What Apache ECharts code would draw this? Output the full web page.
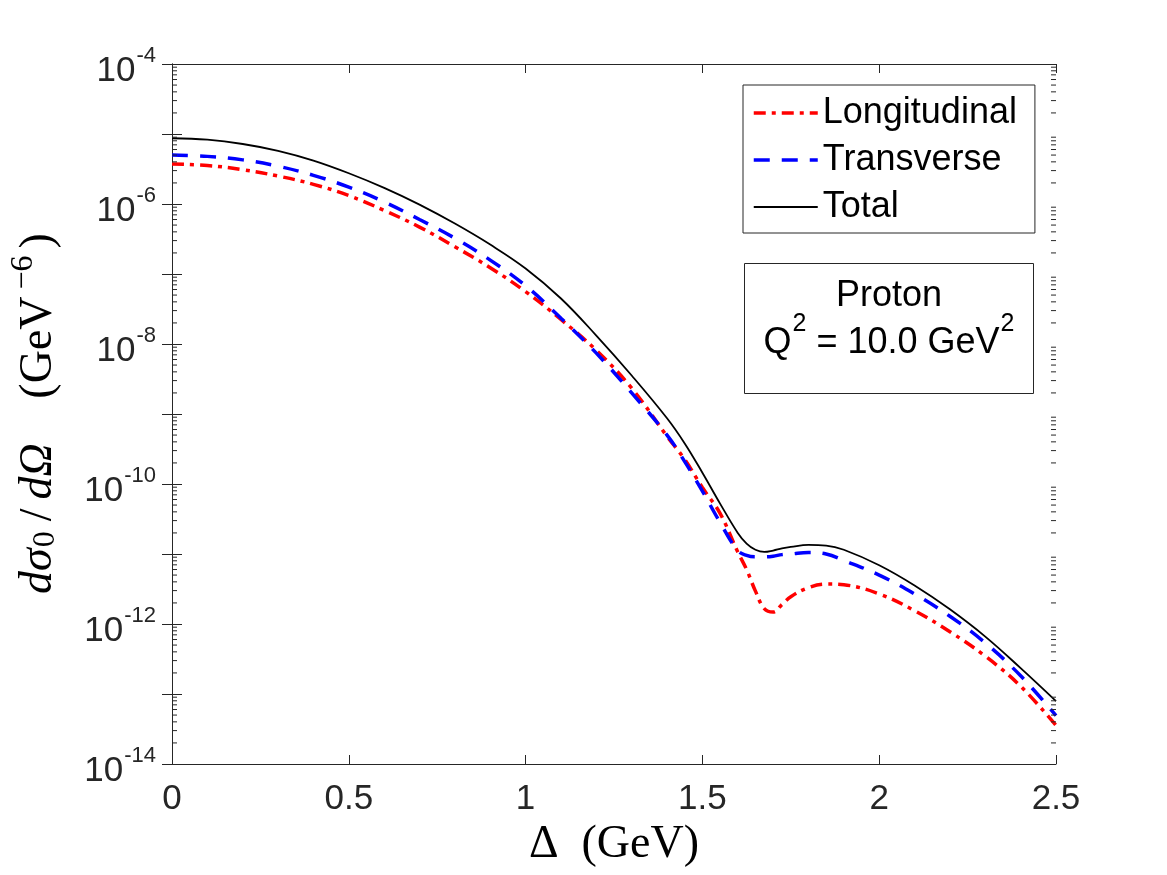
<!DOCTYPE html>
<html>
<head>
<meta charset="utf-8">
<script src="https://cdn.jsdelivr.net/npm/echarts@6/dist/echarts.min.js"></script>
<style>
html, body { margin: 0; padding: 0; background: #fff; }
#main { width: 1167px; height: 875px; }
</style>
</head>
<body>
<div id="main"></div>
<script>
// Delta (GeV)
var delta = [0, 0.1, 0.2, 0.3, 0.4, 0.5, 0.6, 0.7, 0.8, 0.9, 1.0, 1.1, 1.2, 1.3, 1.4, 1.45, 1.5, 1.55,
    1.6, 1.625, 1.65, 1.675, 1.7, 1.725, 1.75, 1.8, 1.85, 1.9, 2.0, 2.1, 2.2, 2.3, 2.4, 2.5];
// d sigma_0 / d Omega (GeV^-6)
var longitudinal = [3.72e-6, 3.55e-6, 3.09e-6, 2.51e-6, 1.91e-6, 1.32e-6, 8.1e-7, 4.68e-7, 2.45e-7, 1.23e-7,
    5.6e-8, 2.24e-8, 8.1e-9, 2.34e-9, 4.8e-10, 2.24e-10, 8.9e-11, 3.8e-11,
    1.07e-11, 6.0e-12, 2.95e-12, 1.66e-12, 1.48e-12, 1.9e-12, 2.45e-12, 3.31e-12, 3.72e-12, 3.63e-12,
    2.69e-12, 1.55e-12, 7.76e-13, 3.47e-13, 1.29e-13, 3.55e-14];
var transverse = [5.0e-6, 4.79e-6, 4.27e-6, 3.47e-6, 2.57e-6, 1.74e-6, 1.07e-6, 6.0e-7, 3.24e-7, 1.58e-7,
    6.8e-8, 2.34e-8, 7.4e-9, 2.0e-9, 5.0e-10, 2.09e-10, 7.9e-11, 2.82e-11,
    1.12e-11, 9.55e-12, 9.1e-12, 9.1e-12, 9.3e-12, 9.8e-12, 1.0e-11, 1.05e-11, 1.0e-11, 8.1e-12,
    5.0e-12, 2.69e-12, 1.29e-12, 5.37e-13, 1.82e-13, 4.9e-14];
var total = [8.7e-6, 8.3e-6, 7.2e-6, 5.75e-6, 4.17e-6, 2.75e-6, 1.70e-6, 9.8e-7, 5.25e-7, 2.63e-7,
    1.2e-7, 4.47e-8, 1.32e-8, 3.55e-9, 8.7e-10, 3.8e-10, 1.45e-10, 5.25e-11,
    2.0e-11, 1.41e-11, 1.15e-11, 1.07e-11, 1.12e-11, 1.2e-11, 1.26e-11, 1.35e-11, 1.32e-11, 1.15e-11,
    6.9e-12, 3.55e-12, 1.62e-12, 6.6e-13, 2.34e-13, 7.9e-14];

var myChart = echarts.init(document.getElementById('main'));
var axisColor = '#262626';

// minor log ticks (2..9 x 10^d)
var minorTicks = [];
for (var d = -14; d < -4; d++) {
    for (var k = 2; k <= 9; k++) minorTicks.push([0, k * Math.pow(10, d)]);
}

function pairs(ys) {
    var out = [];
    for (var i = 0; i < delta.length; i++) out.push([delta[i], ys[i]]);
    return out;
}

myChart.setOption({
    animation: false,
    backgroundColor: '#fff',
    grid: { left: 168, top: 64, width: 888, height: 700, containLabel: false },
    legend: {
        data: [
            { name: 'Longitudinal', lineStyle: { width: 3.5 } },
            { name: 'Transverse', lineStyle: { width: 3.5 } },
            { name: 'Total', lineStyle: { width: 1.8 } }
        ],
        orient: 'vertical',
        left: 743, top: 85,
        itemWidth: 64, itemHeight: 14, itemGap: 7,
        padding: [8, 18, 6, 9],
        borderColor: axisColor, borderWidth: 1, backgroundColor: '#fff',
        selectedMode: false,
        itemStyle: { opacity: 0, borderWidth: 0 },
        textStyle: { fontSize: 36, fontFamily: 'Liberation Sans', color: '#000', lineHeight: 40 }
    },
    xAxis: [{
        type: 'value', min: 0, max: 2.5, interval: 0.5,
        name: 'Δ  (GeV)', nameLocation: 'middle', nameGap: 58,
        nameTextStyle: { fontSize: 46, fontFamily: 'Liberation Serif', color: '#000' },
        axisLine: { lineStyle: { color: axisColor, width: 1 } },
        axisTick: { inside: true, length: 9, lineStyle: { color: axisColor } },
        axisLabel: { fontSize: 35, fontFamily: 'Liberation Sans', color: axisColor, margin: 18,
            showMinLabel: true, showMaxLabel: true },
        splitLine: { show: false }
    }, {
        type: 'value', min: 0, max: 2.5, interval: 0.5, position: 'top',
        axisLine: { lineStyle: { color: axisColor, width: 1 } },
        axisTick: { inside: true, length: 9, lineStyle: { color: axisColor } },
        axisLabel: { show: false },
        splitLine: { show: false }
    }],
    yAxis: [{
        type: 'log', logBase: 10, min: 1e-14, max: 1e-4, interval: 1,
        name: '{it|dσ}{sub|0}{sl|/}{it2|dΩ}{gap| }{n|(GeV}{sup|−6}{n|)}',
        nameLocation: 'middle', nameGap: 102,
        nameTextStyle: {
            fontFamily: 'Liberation Serif', color: '#000',
            rich: {
                it: { fontSize: 46, fontStyle: 'italic', fontFamily: 'Liberation Serif', color: '#000', padding: [0, 1, 0, 4] },
                it2: { fontSize: 46, fontStyle: 'italic', fontFamily: 'Liberation Serif', color: '#000', padding: [0, 4, 0, 4] },
                sl: { fontSize: 46, fontFamily: 'Liberation Serif', color: '#000', padding: [0, 5, 0, 5] },
                gap: { fontSize: 46, fontFamily: 'Liberation Serif', color: '#000', padding: [0, 13, 0, 13] },
                n: { fontSize: 46, fontFamily: 'Liberation Serif', color: '#000', padding: [0, 3, 0, 3] },
                sub: { fontSize: 32, fontFamily: 'Liberation Serif', color: '#000', padding: [14, 5, 0, 0] },
                sup: { fontSize: 32, fontFamily: 'Liberation Serif', color: '#000', padding: [0, 4, 30, 4] }
            }
        },
        axisLine: { lineStyle: { color: axisColor, width: 1 } },
        axisTick: { inside: true, length: 10, lineStyle: { color: axisColor } },
        axisLabel: {
            margin: 16,
            formatter: function (v) {
                var e = Math.round(Math.log10(v));
                if (e % 2 !== 0) return '';
                return '{b|10}{s|' + e + '}';
            },
            rich: {
                b: { fontSize: 35, fontFamily: 'Liberation Sans', color: axisColor, padding: [14, 0, 0, 0] },
                s: { fontSize: 22, fontFamily: 'Liberation Sans', color: axisColor, padding: [0, 0, 16, 1] }
            }
        },
        splitLine: { show: false }
    }, {
        type: 'log', logBase: 10, min: 1e-14, max: 1e-4, interval: 1, position: 'right',
        axisLine: { lineStyle: { color: axisColor, width: 1 } },
        axisTick: { inside: true, length: 10, lineStyle: { color: axisColor } },
        axisLabel: { show: false },
        splitLine: { show: false }
    }],
    graphic: [{
        type: 'group', left: 744, top: 263,
        children: [{
            type: 'rect', shape: { x: 0, y: 0, width: 289, height: 130 },
            style: { fill: '#fff', stroke: axisColor, lineWidth: 1 }
        }, {
            type: 'text', x: 144.5, y: 33,
            style: { text: 'Proton', fontSize: 36, fontFamily: 'Liberation Sans', fill: '#000',
                align: 'center', verticalAlign: 'middle' }
        }, {
            type: 'text', x: 144.5, y: 80,
            style: {
                text: '{n|Q}{s|2}{n| = 10.0 GeV}{s|2}',
                align: 'center', verticalAlign: 'middle',
                rich: {
                    n: { fontSize: 36, fontFamily: 'Liberation Sans', fill: '#000' },
                    s: { fontSize: 25, fontFamily: 'Liberation Sans', fill: '#000', padding: [0, 0, 38, 1] }
                }
            }
        }]
    }],
    series: [{
        name: 'Longitudinal', type: 'line', data: pairs(longitudinal),
        symbol: 'none', smooth: 0.4, z: 3,
        itemStyle: { color: '#ff0000' },
        lineStyle: { color: '#ff0000', width: 3.5, type: [12, 6, 4, 6] }
    }, {
        name: 'Transverse', type: 'line', data: pairs(transverse),
        symbol: 'none', smooth: 0.4, z: 4,
        itemStyle: { color: '#0000ff' },
        lineStyle: { color: '#0000ff', width: 3.5, type: [16, 12] }
    }, {
        name: 'Total', type: 'line', data: pairs(total),
        symbol: 'none', smooth: 0.4, z: 5,
        itemStyle: { color: '#000' },
        lineStyle: { color: '#000', width: 1.8, type: 'solid' }
    }, {
        name: 'minor', type: 'custom', data: minorTicks, silent: true, z: 6,
        encode: { x: 0, y: 1 },
        renderItem: function (params, api) {
            var v = api.value(1);
            var l = api.coord([0, v]);
            var r = api.coord([2.5, v]);
            var st = { stroke: axisColor, lineWidth: 1 };
            return {
                type: 'group', children: [
                    { type: 'line', shape: { x1: l[0], y1: l[1], x2: l[0] + 5, y2: l[1] }, style: st },
                    { type: 'line', shape: { x1: r[0] - 5, y1: r[1], x2: r[0], y2: r[1] }, style: st }
                ]
            };
        }
    }]
});
</script>
</body>
</html>
